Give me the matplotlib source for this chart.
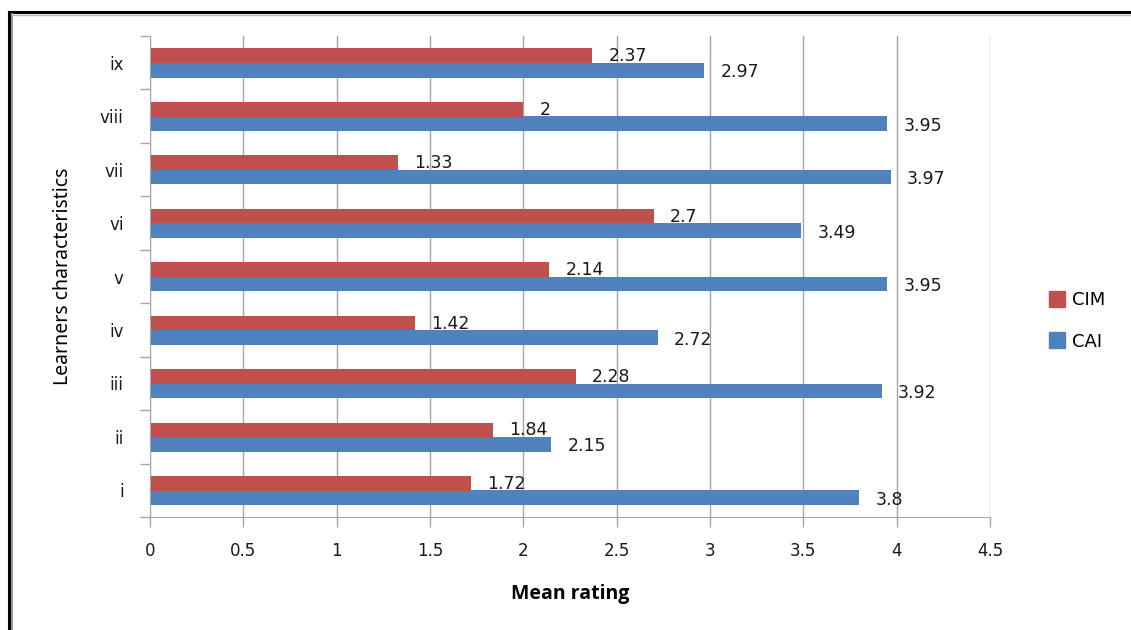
import matplotlib.pyplot as plt
import numpy as np
from matplotlib.lines import Line2D

categories = ["i", "ii", "iii", "iv", "v", "vi", "vii", "viii", "ix"]
cim = [1.72, 1.84, 2.28, 1.42, 2.14, 2.7, 1.33, 2, 2.37]
cai = [3.8, 2.15, 3.92, 2.72, 3.95, 3.49, 3.97, 3.95, 2.97]
xticks = [0, 0.5, 1, 1.5, 2, 2.5, 3, 3.5, 4, 4.5]
xtick_labels = ["0", "0.5", "1", "1.5", "2", "2.5", "3", "3.5", "4", "4.5"]

RED = "#C0504D"
BLUE = "#4F81BD"
GRID = "#A6A6A6"
TEXT = "#1a1a1a"

plt.rcParams["font.family"] = ["DejaVu Sans"]

fig = plt.figure(figsize=(11.31, 6.3), dpi=100)
ax = fig.add_axes([150 / 1131, 1 - 517 / 630, 840 / 1131, (517 - 36) / 630])

pos = np.arange(len(categories))
h = 0.275
ax.barh(pos - 0.14, cai, height=h, color=BLUE, label="CAI", zorder=3)
ax.barh(pos + 0.13, cim, height=h, color=RED, label="CIM", zorder=3)

# value labels beside each bar end
for p, v in zip(pos, cim):
    ax.annotate(f"{v:g}", (v, p + 0.12), xytext=(11.5, 0), textcoords="offset points",
                va="center", ha="left", fontsize=12.5, color=TEXT, zorder=4)
for p, v in zip(pos, cai):
    ax.annotate(f"{v:g}", (v, p - 0.18), xytext=(11.5, 0), textcoords="offset points",
                va="center", ha="left", fontsize=12.5, color=TEXT, zorder=4)

ax.set_xlim(0, 4.5)
ax.set_ylim(-0.5, len(categories) - 0.5)
ax.set_xticks(xticks)
ax.set_xticklabels(xtick_labels, fontsize=12, color=TEXT)
ax.set_yticks(pos)
ax.set_yticklabels(categories, fontsize=12, color=TEXT)
ax.set_yticks(np.arange(-0.5, len(categories), 1.0), minor=True)
ax.tick_params(axis="y", which="major", length=0, pad=19)
ax.tick_params(axis="y", which="minor", length=7, color=GRID, width=1)
ax.tick_params(axis="x", which="major", length=7, color=GRID, width=1, pad=11)

ax.grid(axis="x", color=GRID, linewidth=1, zorder=0)
for s in ["top", "right"]:
    ax.spines[s].set_visible(False)
ax.spines["left"].set_color(GRID)
ax.spines["bottom"].set_color(GRID)
ax.spines["left"].set_zorder(4)

ax.set_xlabel("Mean rating", fontsize=14, fontweight="bold", family="Open Sans", labelpad=17)
ax.set_ylabel("Learners characteristics", fontsize=14, family="Noto Sans",
              labelpad=19)

handles = [
    Line2D([], [], marker="s", linestyle="none", markersize=11, color=RED),
    Line2D([], [], marker="s", linestyle="none", markersize=11, color=BLUE),
]
fig.legend(handles, ["CIM", "CAI"], loc="center left", bbox_to_anchor=(1030 / 1131, 1 - 321 / 630),
           frameon=False, fontsize=13, labelspacing=1.3, handletextpad=0.2, handlelength=1.2)

# outer frame on left and top edges
fig.add_artist(Line2D([9 / 1131, 9 / 1131], [0, 1 - 12 / 630], transform=fig.transFigure,
                      color="black", linewidth=2.2))
fig.add_artist(Line2D([9 / 1131, 1], [1 - 12 / 630, 1 - 12 / 630], transform=fig.transFigure,
                      color="black", linewidth=2.2))
fig.add_artist(Line2D([11.5 / 1131, 11.5 / 1131], [0, 1 - 14 / 630], transform=fig.transFigure,
                      color="#999999", linewidth=1.5))
fig.add_artist(Line2D([11.5 / 1131, 1], [1 - 14.5 / 630, 1 - 14.5 / 630], transform=fig.transFigure,
                      color="#BBBBBB", linewidth=1.0))

fig.savefig("out.png", dpi=100)
